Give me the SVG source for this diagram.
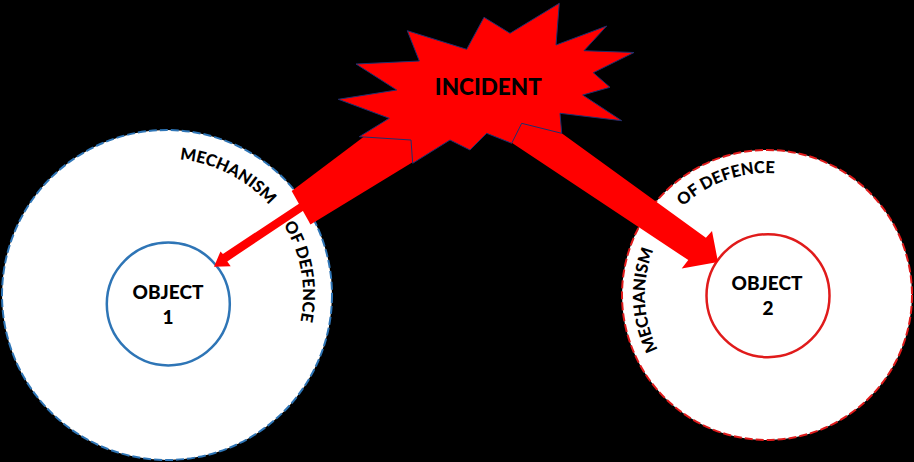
<svg xmlns="http://www.w3.org/2000/svg" width="914" height="462" viewBox="0 0 914 462">
<style>
.outer{fill:#ffffff;stroke-width:2;stroke-dasharray:8 3}
.inner{fill:#ffffff;stroke-width:2.5}
.lbl{font-family:Lato,"Liberation Sans",sans-serif;font-weight:900;fill:#000000;text-anchor:middle}
.obj{font-size:19px}
.arc{font-size:16.5px}
.red{fill:#ff0000}
</style>
<defs>
<path id="a1m" d="M148.1,160.3 A136,136 0 0 1 287.1,231.2"/>
<path id="a1d" d="M263.2,198.8 A136,136 0 0 1 290.3,352.5"/>
<path id="a2d" d="M667.1,225 A122,122 0 0 1 798.6,177.2"/>
<path id="a2m" d="M670.2,369.3 A122,122 0 0 1 664.1,229.4"/>
</defs>
<rect x="0" y="0" width="914" height="462" fill="#000000"/>
<g id="object1">
<circle class="outer" cx="167" cy="295" r="165" stroke="#2e75b6"/>
<circle class="inner" cx="168.3" cy="304" r="61.5" stroke="#2e75b6"/>
<text class="lbl obj" x="168" y="299">OBJECT</text>
<text class="lbl obj" x="168" y="324">1</text>
<text class="lbl arc"><textPath href="#a1m" startOffset="50%">MECHANISM</textPath></text>
<text class="lbl arc"><textPath href="#a1d" startOffset="50%">OF DEFENCE</textPath></text>
</g>
<g id="object2">
<circle class="outer" cx="767" cy="295" r="145" stroke="#e01b1b"/>
<circle class="inner" cx="768" cy="295.7" r="61.5" stroke="#e01b1b"/>
<text class="lbl obj" x="767" y="290">OBJECT</text>
<text class="lbl obj" x="768" y="315">2</text>
<text class="lbl arc"><textPath href="#a2d" startOffset="50%">OF DEFENCE</textPath></text>
<text class="lbl arc"><textPath href="#a2m" startOffset="50%">MECHANISM</textPath></text>
</g>
<g id="connectors">
<polygon class="red" points="291.7,191 400,109.5 440,145.5 310.5,224.5"/>
<polygon class="red" points="307.3,207.9 302.7,201.3 222.9,253.9 220.5,251.4 214,266.7 230.7,266.2 227.3,261.4"/>
<polygon class="red" points="530,110.3 705.9,237.7 712,231 718,262 681.7,268.5 688.3,260.1 480,121.7"/>
</g>
<g id="incident">
<polygon class="red" stroke="#1f2f6e" stroke-width="1" stroke-linejoin="miter" points="407.3,30.7 466.7,49.3 484,17.3 510,33.3 559.3,3.3 556,45 606.7,26 584,50.7 634,52.5 593.3,72.7 610,87.3 582.7,95 621.7,120.7 560,113.3 561.7,133.3 521.7,123.3 511.7,143.3 486.7,133.3 470,150 450,140 412.7,163.3 411,140 359.3,136.7 389.3,118.3 338.3,99.3 396.7,90 356,64 419.3,61"/>
<text class="lbl" x="488.3" y="95" font-size="22.5px">INCIDENT</text>
</g>
</svg>
